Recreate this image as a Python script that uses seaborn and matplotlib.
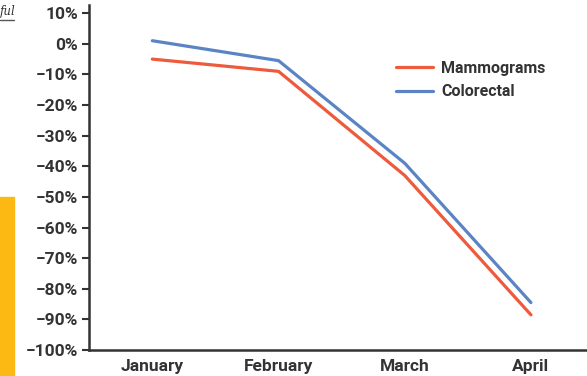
import numpy as np
import matplotlib.pyplot as plt
import matplotlib.patches as mpatches
import pandas as pd
import seaborn as sns

months = ["January", "February", "March", "April"]
mammograms = [-5, -9, -43, -88.5]
colorectal = [1, -5.5, -39, -84.5]
yticks = list(range(10, -101, -10))

data = pd.DataFrame({
    "month": months * 2,
    "change": mammograms + colorectal,
    "screening": ["Mammograms"] * 4 + ["Colorectal"] * 4,
})

sns.set_theme(style="white")
plt.rcParams['font.family'] = ['Roboto', 'DejaVu Sans']

fig = plt.figure(figsize=(5.87, 3.76), dpi=100)
ax = fig.add_axes([0.152, 0.069, 0.86, 0.918])

palette = {"Mammograms": "#EE5A3C", "Colorectal": "#5B84C4"}
sns.lineplot(x="month", y="change", hue="screening", data=data, ax=ax,
             palette=palette, linewidth=2.3, sort=False)

ax.set_xlim(-0.5, 3.5)
ax.set_ylim(-100, 12.7)
ax.set_yticks(yticks)
ax.set_yticklabels([f"{t}%".replace("-", "\u2212") for t in yticks])
ax.set_xlabel("")
ax.set_ylabel("")

for side in ["top", "right"]:
    ax.spines[side].set_visible(False)
for side in ["left", "bottom"]:
    ax.spines[side].set_color("#333333")
    ax.spines[side].set_linewidth(1.8)

ax.tick_params(axis="y", which="both", left=True, length=5, width=1.5,
               color="#333333", labelsize=12.5, labelcolor="#333333", pad=3)
ax.tick_params(axis="x", bottom=False, labelsize=12.5, labelcolor="#333333", pad=0.5)
for lab in ax.get_xticklabels() + ax.get_yticklabels():
    lab.set_fontweight("bold")

leg = ax.legend(loc="upper left", bbox_to_anchor=(0.58, 0.88), frameon=False,
                fontsize=11.5, handlelength=2.3, handletextpad=0.5, labelspacing=0.55)
for t in leg.get_texts():
    t.set_color("#333333")
    t.set_fontweight("bold")

# cropped-page fragments on the left edge
fig.patches.append(mpatches.Rectangle((0, 0), 14 / 587, 179 / 376,
                                      transform=fig.transFigure,
                                      color="#FDB913", zorder=0))
fig.text(0.0, 0.97, "ful", fontsize=8.5, color="#333333",
         family="DejaVu Serif", style="italic", va="center")
fig.lines.append(plt.Line2D([0, 14 / 587], [0.947, 0.947], transform=fig.transFigure,
                            color="#555555", linewidth=1))

fig.savefig("out.png", dpi=100)
